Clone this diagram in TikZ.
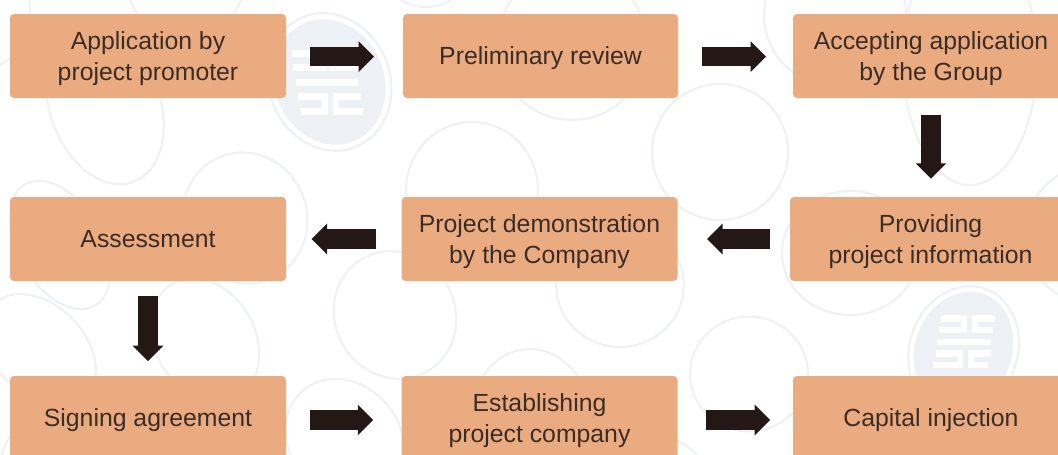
\documentclass[tikz,border=0pt]{standalone}
\usepackage{fontspec}
\setmainfont{Liberation Sans}
\usetikzlibrary{arrows.meta}
\definecolor{boxfill}{HTML}{EAAB80}
\definecolor{ink}{HTML}{231815}
\definecolor{txt}{HTML}{3B2C26}
\definecolor{pale}{HTML}{EDF1F5}
\tikzset{
  x=.75pt,y=-.75pt,
  stagebox/.style={fill=boxfill,rounded corners=3pt,minimum width=#1*.75pt,minimum height=63pt,inner sep=0pt},
  stagebox/.default=276,
  stagetext/.style={text=txt,align=center,inner sep=0pt,yshift=-1.9pt,font=\fontsize{18.6pt}{22.6pt}\selectfont},
  flow/.style={draw=ink,line width=14.4pt,-{Triangle[length=11.6pt,width=22.5pt,color=ink]}},
  bgline/.style={draw=pale,line width=1.5pt},
  logoring/.style={draw=pale,fill=white,line width=1.6pt},
  logofill/.style={fill=pale},
  logomark/.style={draw=white,line width=5pt,line cap=butt,miter limit=10}
}
\newcommand{\bgell}[5]{\draw[bgline,shift={(#1,#2)},rotate=#5] (0,0) ellipse (#3 and #4);}
\begin{document}
\begin{tikzpicture}
\useasboundingbox (0,0) rectangle (1058,454);
\begin{scope}
\clip (0,0) rectangle (1058,454);
\fill[white] (0,0) rectangle (1058,454);
% background outlines
\bgell{105}{105}{55}{82}{20}
\bgell{185.5}{-30}{61.5}{70}{0}
\bgell{426}{-25}{40}{32}{0}
\bgell{572}{45}{75}{75}{0}
\bgell{472}{190}{66}{68}{0}
\bgell{720}{152}{68}{68}{0}
\bgell{835}{15}{71}{71}{0}
\bgell{970}{60}{67}{125}{0}
\bgell{850}{253}{68}{62}{0}
\bgell{620}{285}{64}{62}{0}
\bgell{749}{374}{59}{57.5}{0}
\bgell{530}{420}{60}{71}{0}
\bgell{650}{500}{65}{65}{0}
\bgell{345}{440}{55}{65}{40}
\bgell{205}{340}{50}{65}{30}
\bgell{40}{350}{45}{65}{45}
\bgell{40}{470}{40}{50}{0}
\bgell{-15}{10}{45}{58}{0}
\bgell{1095}{235}{70}{70}{0}
\bgell{60}{245}{42}{70}{30}
\bgell{245}{218}{62}{66}{20}
\bgell{395}{315}{60}{65}{30}
% logos
\draw[logoring,shift={(329.5,82)},rotate=22] (0,0) ellipse (60.5 and 70);
\fill[logofill,shift={(329.5,82)},rotate=22] (0,0) ellipse (54.5 and 64);
\draw[logomark] (292,53.5) -- (324,53.5) -- (324,67.5) -- (293,67.5);
\draw[logomark] (361,53.5) -- (332,53.5) -- (332,67.5) -- (359,67.5);
\draw[logomark] (296,82.5) -- (358,82.5);
\draw[logomark] (298,96.5) -- (325,96.5) -- (325,111.5) -- (301,111.5);
\draw[logomark] (361,96.5) -- (336,96.5) -- (336,111.5) -- (363,111.5);
\draw[logoring,shift={(963.5,350)},rotate=-20] (0,0) ellipse (54 and 65);
\fill[logofill,shift={(963.5,350)},rotate=-20] (0,0) ellipse (48.5 and 59.5);
\draw[logomark] (941,318.5) -- (964,318.5) -- (964,330) -- (939,330);
\draw[logomark] (995,318.5) -- (975,318.5) -- (975,330) -- (993,330);
\draw[logomark] (937,342) -- (991,342);
\draw[logomark] (936,353.5) -- (960,353.5) -- (960,365) -- (933,365);
\draw[logomark] (991,353.5) -- (971,353.5) -- (971,365) -- (988,365);
\end{scope}
% stages
\node[stagebox,label={[stagetext]center:{Application by\\project promoter}}] (apply) at (148,56) {};
\node[stagebox=275,label={[stagetext]center:{\strut Preliminary review}}] (review) at (540.5,56) {};
\node[stagebox,label={[stagetext]center:{Accepting application\\by the Group}}] (accept) at (931,56) {};
\node[stagebox,label={[stagetext,xshift=1.9pt]center:{Providing\\project information}}] (info) at (928,239) {};
\node[stagebox,label={[stagetext]center:{Project demonstration\\by the Company}}] (demo) at (539.5,239) {};
\node[stagebox,label={[stagetext]center:{\strut Assessment}}] (assess) at (148,239) {};
\node[stagebox,label={[stagetext]center:{\strut Signing agreement}}] (sign) at (148,418) {};
\node[stagebox,label={[stagetext]center:{Establishing\\project company}}] (establish) at (539.5,418) {};
\node[stagebox,label={[stagetext]center:{\strut Capital injection}}] (capital) at (931,418) {};
% flow arrows
\draw[flow,shorten <=18pt,shorten >=21.5pt] ([yshift=-.5pt]apply.east) -- ([yshift=-.5pt]review.west);
\draw[flow,shorten <=17.5pt,shorten >=20pt] ([yshift=-.5pt]review.east) -- ([yshift=-.5pt]accept.west);
\draw[flow,shorten <=12.75pt,shorten >=13.5pt] (accept.south) -- (accept.south |- info.north);
\draw[flow,shorten <=15pt,shorten >=22pt] (info.west) -- (demo.east);
\draw[flow,shorten <=19pt,shorten >=19pt] (demo.west) -- (assess.east);
\draw[flow,shorten <=11.25pt,shorten >=10.9pt] (assess.south) -- (sign.north);
\draw[flow,shorten <=18pt,shorten >=21pt] ([yshift=-1.5pt]sign.east) -- ([yshift=-1.5pt]establish.west);
\draw[flow,shorten <=21.5pt,shorten >=17pt] ([yshift=-1.5pt]establish.east) -- ([yshift=-1.5pt]capital.west);
\end{tikzpicture}
\end{document}
